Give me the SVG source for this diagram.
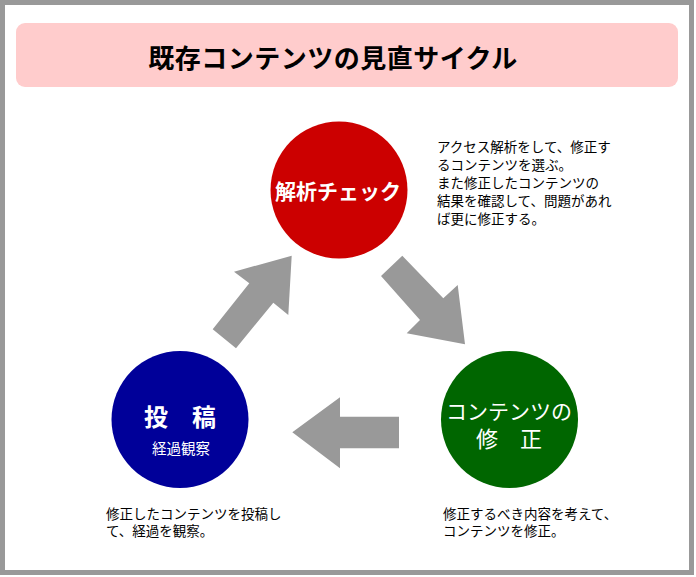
<svg xmlns="http://www.w3.org/2000/svg" width="696" height="577" viewBox="0 0 696 577">
<style>
text{font-family:"Noto Sans CJK JP","Noto Sans",sans-serif;}
.desc{font-size:13.5px;fill:#000;}
.arrow{fill:#999999;}
.lbl{fill:#fff;text-anchor:middle;}
</style>
<rect x="0" y="0" width="696" height="577" fill="#fff"/>
<rect x="2.5" y="2.5" width="689" height="570" fill="#fff" stroke="#999" stroke-width="5"/>
<g id="title">
<rect x="16" y="23" width="662" height="64" rx="9" fill="#FFCCCC"/>
<text x="333" y="68" font-size="26" font-weight="bold" text-anchor="middle" letter-spacing="0.5">既存コンテンツの見直サイクル</text>
</g>
<g id="connectors">
<polygon class="arrow" points="291.7,255.7 234,271.7 249.3,283.3 212.7,329.3 236,348.3 273.3,302.7 288.3,315"/>
<polygon class="arrow" points="381,276 402.3,255.7 443.3,298.3 457.7,285 465,344.3 406.7,333.3 420,320"/>
<polygon class="arrow" points="292.3,432.3 340,397.3 340,416.7 399,416.7 399,448.3 340,448.3 340,468.3"/>
</g>
<g id="node-analysis">
<circle cx="339" cy="190" r="68.5" fill="#CC0000"/>
<text class="lbl" x="338" y="199" font-size="21" font-weight="bold">解析チェック</text>
</g>
<g id="node-fix">
<circle cx="509.5" cy="419.5" r="68.5" fill="#006600"/>
<text class="lbl" x="509" y="419" font-size="21">コンテンツの</text>
<text class="lbl" x="509" y="447" font-size="22">修　正</text>
</g>
<g id="node-post">
<circle cx="180" cy="419.5" r="68.5" fill="#000099"/>
<text class="lbl" x="180" y="426" font-size="24" font-weight="bold">投　稿</text>
<text class="lbl" x="181" y="454" font-size="14.5">経過観察</text>
</g>
<g id="desc-analysis">
<text class="desc" x="437" y="152">アクセス解析をして、修正す</text>
<text class="desc" x="437" y="170">るコンテンツを選ぶ。</text>
<text class="desc" x="437" y="188">また修正したコンテンツの</text>
<text class="desc" x="437" y="206">結果を確認して、問題があれ</text>
<text class="desc" x="437" y="223.5">ば更に修正する。</text>
</g>
<g id="desc-fix">
<text class="desc" x="443" y="518.5">修正するべき内容を考えて、</text>
<text class="desc" x="443" y="535.5">コンテンツを修正。</text>
</g>
<g id="desc-post">
<text class="desc" x="106" y="518.5">修正したコンテンツを投稿し</text>
<text class="desc" x="106" y="535.5">て、経過を観察。</text>
</g>
</svg>
